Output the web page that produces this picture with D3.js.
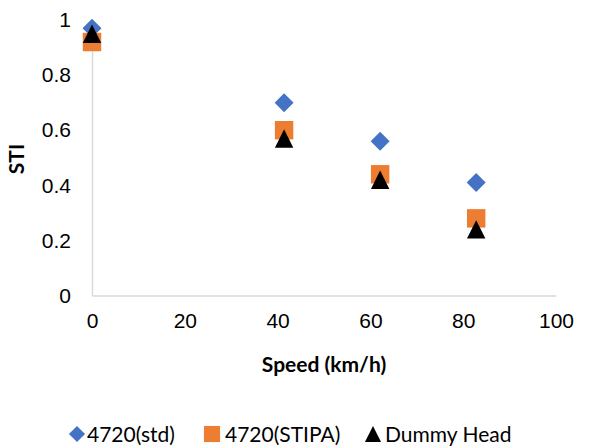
<!DOCTYPE html>
<html>
<head>
<meta charset="utf-8">
<script src="https://cdn.jsdelivr.net/npm/d3@7"></script>
<style>
  body { margin: 0; background: #fff; }
  svg { display: block; font-family: Lato, "Open Sans", sans-serif; }
</style>
</head>
<body>
<div id="chart"></div>
<script>
// values
const speeds = [0, 41.4, 62.1, 82.8];
const stdValues = [0.97, 0.70, 0.56, 0.41];
const stipaValues = [0.92, 0.60, 0.44, 0.28];
const dummyValues = [0.95, 0.57, 0.42, 0.24];
const xTicks = [0, 20, 40, 60, 80, 100];
const yTicks = [0, 0.2, 0.4, 0.6, 0.8, 1];
const seriesNames = ["4720(std)", "4720(STIPA)", "Dummy Head"];

const width = 590, height = 446;
const margin = { top: 20, right: 34, bottom: 150.5, left: 92 };

const diamond = {
	draw(ctx, size) {
		const r = Math.sqrt(size / 2);
		ctx.moveTo(0, -r); ctx.lineTo(r, 0); ctx.lineTo(0, r); ctx.lineTo(-r, 0); ctx.closePath();
	}
};
const square = {
	draw(ctx, size) {
		const h = Math.sqrt(size) / 2;
		ctx.rect(-h, -h, h * 2, h * 2);
	}
};
const triangle = {
	draw(ctx, size) {
		const h = Math.sqrt(size) / 2;
		ctx.moveTo(0, -h); ctx.lineTo(h, h); ctx.lineTo(-h, h); ctx.closePath();
	}
};

const series = [
	{ name: seriesNames[0], values: stdValues, color: "#4472C4", shape: diamond, size: 180 },
	{ name: seriesNames[1], values: stipaValues, color: "#ED7D31", shape: square, size: 340 },
	{ name: seriesNames[2], values: dummyValues, color: "#000000", shape: triangle, size: 340 },
];

const svg = d3.select("#chart").append("svg")
	.attr("width", width)
	.attr("height", height);

const x = d3.scaleLinear().domain([0, 100]).range([margin.left, width - margin.right]);
const y = d3.scaleLinear().domain([0, 1]).range([height - margin.bottom, margin.top]);

// X axis
const xAxis = svg.append("g")
	.attr("transform", "translate(0," + y(0) + ")")
	.call(d3.axisBottom(x).tickValues(xTicks).tickSize(0).tickFormat(d3.format("d")));
xAxis.select(".domain").attr("stroke", "#d9d9d9").attr("stroke-width", 1.5);
xAxis.selectAll("text")
	.attr("y", 32).attr("dy", null)
	.attr("fill", "#000").style("font-size", "21px");

// Y axis
const yAxis = svg.append("g")
	.attr("transform", "translate(" + x(0) + ",0)")
	.call(d3.axisLeft(y).tickValues(yTicks).tickSize(0).tickPadding(21).tickFormat(d => String(d)));
yAxis.select(".domain").attr("stroke", "#d9d9d9").attr("stroke-width", 1.5);
yAxis.selectAll("text")
	.attr("fill", "#000").style("font-size", "21px");

// axis titles
svg.append("text")
	.attr("x", (x(0) + x(100)) / 2)
	.attr("y", 372)
	.attr("text-anchor", "middle")
	.style("font-size", "21px").style("font-weight", "bold")
	.text("Speed (km/h)");

svg.append("text")
	.attr("transform", "translate(24," + 159 + ") rotate(-90)")
	.attr("text-anchor", "middle")
	.style("font-size", "21px").style("font-weight", "bold")
	.text("STI");

// points
series.forEach(s => {
	svg.append("g")
		.selectAll("path")
		.data(s.values)
		.join("path")
		.attr("transform", (d, i) => "translate(" + x(speeds[i]) + "," + y(d) + ")")
		.attr("d", d3.symbol(s.shape, s.size))
		.attr("fill", s.color);
});

// legend
const legendPos = [{ mx: 77, tx: 87 }, { mx: 212, tx: 225 }, { mx: 373, tx: 385 }];
const legend = svg.append("g");
series.forEach((s, i) => {
	legend.append("path")
		.attr("transform", "translate(" + legendPos[i].mx + ",434)")
		.attr("d", d3.symbol(s.shape, i === 0 ? 130 : 260))
		.attr("fill", s.color);
	legend.append("text")
		.attr("x", legendPos[i].tx)
		.attr("y", 442)
		.style("font-size", "21px")
		.text(s.name);
});
</script>
</body>
</html>
